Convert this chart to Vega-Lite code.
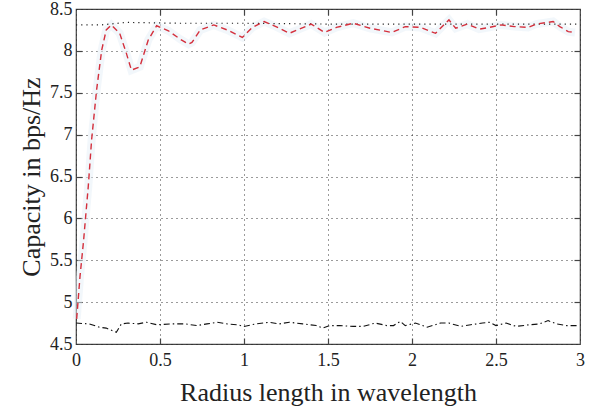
{
  "$schema": "https://vega.github.io/schema/vega-lite/v6.json",
  "autosize": {"type": "none"},
  "width": 504,
  "height": 335,
  "padding": {"left": 76, "top": 9, "right": 10, "bottom": 62},
  "background": "white",
  "config": {
    "font": "Liberation Serif",
    "view": {"stroke": "#444444", "strokeWidth": 1.2},
    "axis": {"labelFont": "Liberation Serif", "titleFont": "Liberation Serif", "labelColor": "#222222", "titleColor": "#222222", "titleFontWeight": "normal", "labelFontSize": 18, "titleFontSize": 26, "grid": false, "ticks": false, "tickColor": "#444444", "tickWidth": 1.2, "domain": false, "format": "~g"}
  },
  "datasets": {
    "red": [
      {"x": 0.004, "y": 4.8}, {"x": 0.024, "y": 5.31}, {"x": 0.044, "y": 5.71}, {"x": 0.073, "y": 6.38},
      {"x": 0.093, "y": 6.94}, {"x": 0.123, "y": 7.54}, {"x": 0.153, "y": 8.01}, {"x": 0.18, "y": 8.25},
      {"x": 0.21, "y": 8.31}, {"x": 0.26, "y": 8.21}, {"x": 0.3, "y": 7.97}, {"x": 0.33, "y": 7.77},
      {"x": 0.38, "y": 7.81}, {"x": 0.43, "y": 8.13}, {"x": 0.48, "y": 8.3}, {"x": 0.55, "y": 8.24},
      {"x": 0.62, "y": 8.14}, {"x": 0.67, "y": 8.08}, {"x": 0.69, "y": 8.1}, {"x": 0.74, "y": 8.25},
      {"x": 0.82, "y": 8.31}, {"x": 0.9, "y": 8.25}, {"x": 0.99, "y": 8.16}, {"x": 1.05, "y": 8.28},
      {"x": 1.12, "y": 8.35}, {"x": 1.2, "y": 8.28}, {"x": 1.27, "y": 8.21}, {"x": 1.33, "y": 8.26},
      {"x": 1.4, "y": 8.32}, {"x": 1.48, "y": 8.22}, {"x": 1.55, "y": 8.28}, {"x": 1.65, "y": 8.33},
      {"x": 1.75, "y": 8.27}, {"x": 1.88, "y": 8.22}, {"x": 1.96, "y": 8.29}, {"x": 2.05, "y": 8.28},
      {"x": 2.14, "y": 8.21}, {"x": 2.22, "y": 8.37}, {"x": 2.26, "y": 8.27}, {"x": 2.33, "y": 8.32},
      {"x": 2.4, "y": 8.26}, {"x": 2.46, "y": 8.28}, {"x": 2.53, "y": 8.31}, {"x": 2.61, "y": 8.29},
      {"x": 2.69, "y": 8.28}, {"x": 2.74, "y": 8.32}, {"x": 2.84, "y": 8.35}, {"x": 2.88, "y": 8.29},
      {"x": 2.93, "y": 8.23}, {"x": 2.97, "y": 8.22}
    ],
    "dotted": [
      {"x": 0.0, "y": 8.31}, {"x": 0.15, "y": 8.31}, {"x": 0.3, "y": 8.34}, {"x": 0.6, "y": 8.33},
      {"x": 1.0, "y": 8.33}, {"x": 1.5, "y": 8.32}, {"x": 2.0, "y": 8.32}, {"x": 2.5, "y": 8.32}, {"x": 2.98, "y": 8.32}
    ],
    "dashdot": [
      {"x": 0.0, "y": 4.75}, {"x": 0.08, "y": 4.74}, {"x": 0.14, "y": 4.7}, {"x": 0.18, "y": 4.69},
      {"x": 0.24, "y": 4.64}, {"x": 0.27, "y": 4.74}, {"x": 0.31, "y": 4.75}, {"x": 0.37, "y": 4.74},
      {"x": 0.42, "y": 4.76}, {"x": 0.48, "y": 4.73}, {"x": 0.57, "y": 4.74}, {"x": 0.65, "y": 4.74},
      {"x": 0.72, "y": 4.72}, {"x": 0.78, "y": 4.74}, {"x": 0.84, "y": 4.76}, {"x": 0.9, "y": 4.74},
      {"x": 0.96, "y": 4.73}, {"x": 1.0, "y": 4.71}, {"x": 1.07, "y": 4.74}, {"x": 1.15, "y": 4.76},
      {"x": 1.21, "y": 4.74}, {"x": 1.27, "y": 4.76}, {"x": 1.35, "y": 4.74}, {"x": 1.43, "y": 4.72},
      {"x": 1.47, "y": 4.69}, {"x": 1.51, "y": 4.72}, {"x": 1.57, "y": 4.72}, {"x": 1.65, "y": 4.71},
      {"x": 1.71, "y": 4.71}, {"x": 1.78, "y": 4.75}, {"x": 1.85, "y": 4.72}, {"x": 1.89, "y": 4.72},
      {"x": 1.93, "y": 4.77}, {"x": 1.96, "y": 4.72}, {"x": 2.02, "y": 4.75}, {"x": 2.09, "y": 4.7},
      {"x": 2.17, "y": 4.75}, {"x": 2.22, "y": 4.75}, {"x": 2.29, "y": 4.71}, {"x": 2.35, "y": 4.73},
      {"x": 2.42, "y": 4.75}, {"x": 2.46, "y": 4.76}, {"x": 2.5, "y": 4.72}, {"x": 2.56, "y": 4.75},
      {"x": 2.62, "y": 4.71}, {"x": 2.7, "y": 4.73}, {"x": 2.76, "y": 4.74}, {"x": 2.81, "y": 4.78},
      {"x": 2.86, "y": 4.74}, {"x": 2.92, "y": 4.72}, {"x": 2.98, "y": 4.72}
    ]
  },
  "resolve": {"axis": {"x": "independent", "y": "independent"}},
  "layer": [
    {
      "data": {"name": "red"},
      "mark": {"type": "line", "color": "#e6f0f8", "strokeWidth": 8, "opacity": 0.5},
      "encoding": {
        "x": {"field": "x", "type": "quantitative", "scale": {"domain": [0, 3], "nice": false, "zero": false},
          "axis": {"values": [0, 0.5, 1, 1.5, 2, 2.5, 3], "title": "Radius length in wavelength", "labelPadding": 7, "titlePadding": 10, "labelFlush": false, "grid": true, "gridColor": "#222222", "gridDash": [1, 4], "gridWidth": 1, "gridOpacity": 0.9}},
        "y": {"field": "y", "type": "quantitative", "scale": {"domain": [4.5, 8.5], "nice": false, "zero": false},
          "axis": {"values": [4.5, 5, 5.5, 6, 6.5, 7, 7.5, 8, 8.5], "title": "Capacity in bps/Hz", "labelPadding": 4, "titlePadding": 5, "labelFlush": false, "grid": true, "gridColor": "#222222", "gridDash": [1, 4], "gridWidth": 1, "gridOpacity": 0.9}}
      }
    },
    {
      "data": {"name": "dotted"},
      "mark": {"type": "line", "color": "#222222", "strokeWidth": 1.2, "strokeDash": [1.2, 4]},
      "encoding": {
        "x": {"field": "x", "type": "quantitative", "axis": {"orient": "top", "values": [0.5, 1, 1.5, 2, 2.5], "labels": false, "title": null, "ticks": true, "tickSize": -6}},
        "y": {"field": "y", "type": "quantitative", "axis": {"orient": "right", "values": [5, 5.5, 6, 6.5, 7, 7.5, 8], "labels": false, "title": null, "ticks": true, "tickSize": -6}}
      }
    },
    {
      "data": {"name": "dashdot"},
      "mark": {"type": "line", "color": "#111111", "strokeWidth": 1.1, "strokeDash": [6, 3, 1.5, 3]},
      "encoding": {
        "x": {"field": "x", "type": "quantitative", "axis": {"orient": "bottom", "values": [0.5, 1, 1.5, 2, 2.5], "labels": false, "title": null, "ticks": true, "tickSize": -6}},
        "y": {"field": "y", "type": "quantitative", "axis": {"orient": "left", "values": [5, 5.5, 6, 6.5, 7, 7.5, 8], "labels": false, "title": null, "ticks": true, "tickSize": -6}}
      }
    },
    {
      "data": {"name": "red"},
      "mark": {"type": "line", "color": "#d42f3c", "strokeWidth": 1.4, "strokeDash": [6, 4]},
      "encoding": {"x": {"field": "x", "type": "quantitative", "axis": null}, "y": {"field": "y", "type": "quantitative", "axis": null}}
    }
  ]
}
